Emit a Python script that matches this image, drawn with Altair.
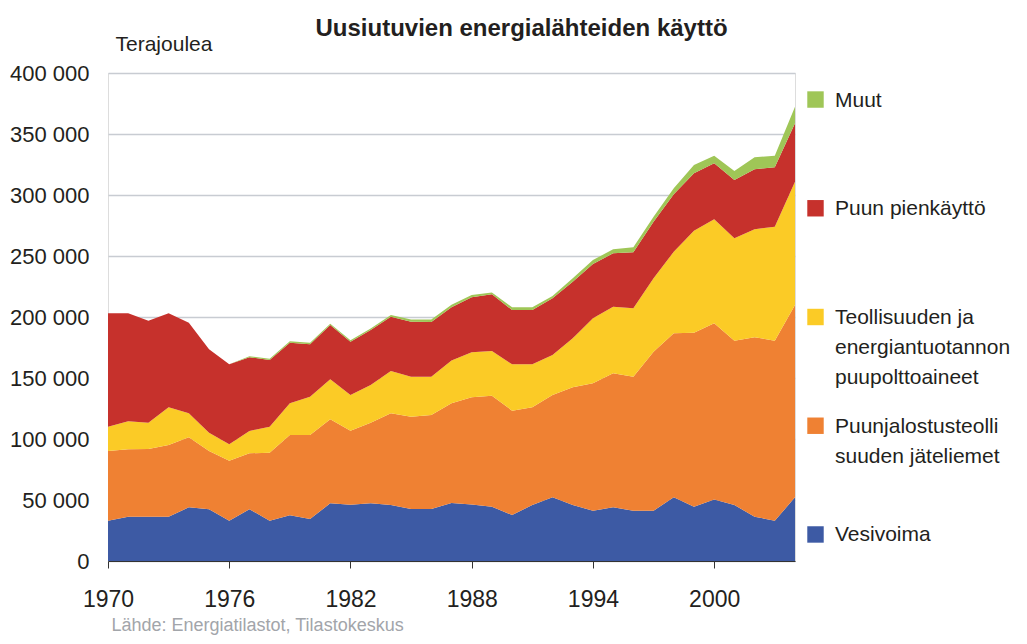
import altair as alt
import pandas as pd

FONT = "Liberation Sans, Arial, sans-serif"

years = list(range(1970, 2005))

# values in terajoules
vesivoima = [33000, 36300, 36300, 36300, 44000, 42400, 33000, 42400, 33000, 37400,
             34400, 47300, 46200, 47300, 45900, 42600, 42600, 47500, 46400, 44500,
             37700, 45900, 52200, 45900, 41200, 44000, 41200, 41200, 52200, 44500,
             50500, 45900, 36300, 33000, 52200]
puunjalostus = [57200, 55200, 55500, 58800, 57400, 47800, 49200, 45900, 55800, 65900,
                68900, 68800, 60600, 66100, 75200, 75700, 77100, 81800, 87800, 91000,
                85500, 80100, 83900, 96500, 104400, 109800, 109900, 130400, 134400, 142600,
                144300, 134700, 147100, 147600, 157600]
teollisuus = [19900, 23000, 21600, 30900, 19700, 15000, 13400, 18300, 21300, 26000,
              31400, 32800, 29300, 30900, 34600, 32800, 31400, 35000, 36900, 36600,
              38000, 35200, 32800, 40100, 53300, 54600, 56000, 60100, 66900, 83600,
              85300, 83900, 88500, 93400, 101100]
pienkaytto = [92900, 88500, 83600, 77000, 74200, 68300, 65600, 60400, 54700, 49600,
              42900, 44500, 43700, 45000, 44500, 45100, 44900, 43700, 45000, 46500,
              44500, 44500, 46400, 46400, 44500, 43800, 45900, 46400, 47100, 47100,
              45900, 47800, 49200, 48700, 47900]
muut = [0, 0, 0, 0, 0, 0, 0, 800, 1000, 1200,
        1200, 1000, 1200, 1300, 1500, 1800, 2000, 2000, 2000, 1500,
        2300, 2300, 2000, 2800, 3300, 3300, 4100, 4100, 4900, 6800,
        6200, 7400, 9800, 9500, 13600]

series_names = ["Vesivoima",
                "Puunjalostusteollisuuden jäteliemet",
                "Teollisuuden ja energiantuotannon puupolttoaineet",
                "Puun pienkäyttö",
                "Muut"]
series_values = [vesivoima, puunjalostus, teollisuus, pienkaytto, muut]
colors = ["#3D5AA4", "#EF8133", "#FBCB26", "#C6312C", "#9FC657"]

legend_series = ["Muut", "Puun pienkäyttö",
                 "Teollisuuden ja energiantuotannon puupolttoaineet",
                 "Puunjalostusteollisuuden jäteliemet", "Vesivoima"]
legend_labels = ["Muut", "Puun pienkäyttö",
                 "Teollisuuden ja\nenergiantuotannon\npuupolttoaineet",
                 "Puunjalostusteolli\nsuuden jäteliemet", "Vesivoima"]

x_ticks = [1970, 1976, 1982, 1988, 1994, 2000]
y_ticks = [0, 50000, 100000, 150000, 200000, 250000, 300000, 350000, 400000]

rows = []
for i, (name, vals) in enumerate(zip(series_names, series_values)):
    for yr, v in zip(years, vals):
        rows.append({"year": yr, "series": name, "value": v, "order": i})
df = pd.DataFrame(rows)

leg_df = pd.DataFrame({"series": legend_series, "label": legend_labels})

color_scale = alt.Scale(domain=series_names, range=colors)

area = alt.Chart(df).mark_area(strokeWidth=0, opacity=1).encode(
    x=alt.X("year:Q",
            scale=alt.Scale(domain=[1970, 2004], nice=False, zero=False),
            axis=alt.Axis(values=x_ticks, format="d", grid=False, labelFlush=False,
                          labelOverlap=False,
                          labelFont=FONT, labelFontSize=23, labelColor="#231f20",
                          labelPadding=20, tickSize=7, tickColor="#333333",
                          domainColor="#333333", domainWidth=1,
                          title="Lähde: Energiatilastot, Tilastokeskus",
                          titleFont=FONT, titleFontSize=18, titleFontWeight="normal",
                          titleColor="#a2a5aa", titleAnchor="start", titleAlign="left",
                          titleBaseline="alphabetic", titleX=3, titleY=69)),
    y=alt.Y("value:Q", stack="zero",
            scale=alt.Scale(domain=[0, 400000], nice=False),
            axis=alt.Axis(values=y_ticks,
                          labelExpr="datum.value == 0 ? '0' : format(datum.value / 1000, 'd') + ' 000'",
                          grid=True, gridColor="#c8ccd2", gridWidth=1.5,
                          ticks=False, domain=False,
                          labelFont=FONT, labelFontSize=22, labelColor="#231f20",
                          labelPadding=19,
                          title="Terajoulea", titleAngle=0, titleAlign="left",
                          titleBaseline="alphabetic", titleX=7, titleY=-23,
                          titleFont=FONT, titleFontSize=21, titleFontWeight="normal",
                          titleColor="#231f20")),
    color=alt.Color("series:N", scale=color_scale, legend=None),
    order=alt.Order("order:Q", sort="ascending"),
)

leg_y = alt.Y("series:N", sort=legend_series,
              scale=alt.Scale(type="point", padding=0.244), axis=None)

leg_sq = alt.Chart(leg_df).mark_square(size=270, opacity=1, strokeWidth=0).encode(
    x=alt.value(707.5),
    y=leg_y,
    color=alt.Color("series:N", scale=color_scale, legend=None),
)

leg_tx = alt.Chart(leg_df).mark_text(
    align="left", baseline="top", dy=-10, fontSize=21, lineBreak="\n",
    lineHeight=30, font=FONT, color="#231f20"
).encode(
    x=alt.value(727),
    y=leg_y,
    text="label:N",
)

chart = alt.layer(area, leg_sq, leg_tx).resolve_scale(y="independent").properties(
    width=687, height=488,
    padding={"left": 100, "top": 65, "right": 224, "bottom": 75},
    autosize=alt.AutoSizeParams(type="none"),
    title=alt.TitleParams("Uusiutuvien energialähteiden käyttö", anchor="start",
                          dx=306, dy=12, font=FONT, fontSize=24, fontWeight="bold",
                          color="#231f20"),
).configure_view(stroke="#c8ccd2", strokeWidth=1.5).configure(background="white")

chart.save("out.html", embed_options={"renderer": "svg", "actions": False})
